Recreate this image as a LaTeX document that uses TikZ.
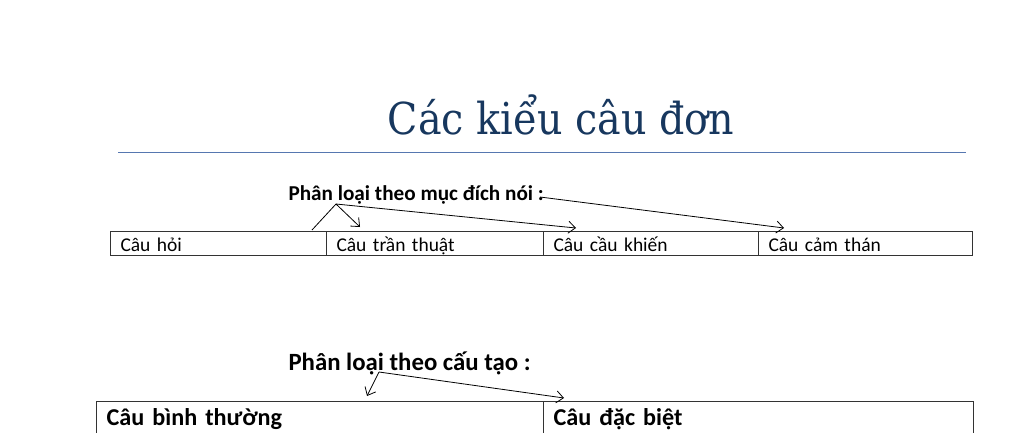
\documentclass[tikz,border=0pt]{standalone}
\usepackage{fontspec}
\setmainfont{Carlito}
\newfontfamily\titlefont{DejaVu Serif Condensed}
\usetikzlibrary{arrows.meta}
\definecolor{titleblue}{HTML}{17375E}
\definecolor{ruleblue}{HTML}{5677B0}
\begin{document}
\begin{tikzpicture}[
        x=1pt, y=-1pt,
        cell/.style={draw=black!80, line width=1pt, rectangle, anchor=north west, inner xsep=10pt, inner ysep=0pt, align=left, text height=20pt, text depth=4pt, font=\fontsize{19.5}{22}\selectfont},
        bigcell/.style={cell, text height=24pt, text depth=10pt, font=\fontsize{24.2}{28}\selectfont\bfseries},
        head/.style={font=\fontsize{21.2}{24}\selectfont\bfseries, anchor=base west},
        arrow/.style={-{Straight Barb[length=7pt, width=12pt]}, line width=0.8pt},
        link/.style={line width=0.8pt}
    ]
    \useasboundingbox (0,0) rectangle (1024,432);

    % title
    \node[font=\titlefont\fontsize{44}{50}\selectfont, text=titleblue, anchor=base] (title) at (561,134) {Các kiểu câu đơn};
    \draw[ruleblue, line width=1.2pt] (118,152.5) -- (966,152.5);

    % by purpose
    \node[head] (purpose) at (285,200) {Phân loại theo mục đích nói :};
    \node[cell, text width=196pt] (ask) at (110,231) {Câu hỏi};
    \node[cell, text width=197pt] (state) at (326,231) {Câu trần thuật};
    \node[cell, text width=195pt] (order) at (543,231) {Câu cầu khiến};
    \node[cell, text width=194pt] (exclaim) at (758,231) {Câu cảm thán};
    \coordinate (p0) at (336,204);
    \coordinate (p1) at (540,197);
    \draw[link] (p0) -- (312,230);
    \draw[arrow] (p0) -- (360,227);
    \draw[arrow] (p0) -- (576,228);
    \draw[arrow] (p1) -- (784,228);

    % by structure
    \node[head, font=\fontsize{24.8}{28}\selectfont\bfseries] (structure) at (285,370) {Phân loại theo cấu tạo :};
    \node[bigcell, text width=427pt] (normal) at (96,401) {Câu bình thường};
    \node[bigcell, text width=410pt] (special) at (543,401) {Câu đặc biệt};
    \coordinate (s0) at (379,372);
    \draw[arrow] (s0) -- (367,396);
    \draw[arrow] (s0) -- (564,398);
\end{tikzpicture}
\end{document}
